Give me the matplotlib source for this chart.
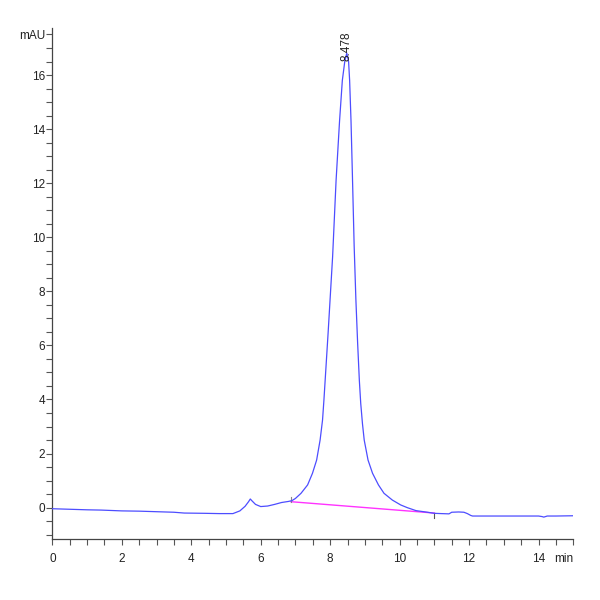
import numpy as np
import matplotlib
matplotlib.use("Agg")
import matplotlib.pyplot as plt
from matplotlib.ticker import MultipleLocator

plt.rcParams['font.family'] = ['Liberation Sans Narrow', 'Liberation Sans', 'DejaVu Sans']

# chromatogram (time in min, signal in mAU)
time_min = [0.0, 0.5, 1.0, 1.4, 2.0, 2.5, 3.0, 3.5, 3.8, 4.4, 4.8, 5.2,
            5.4, 5.55, 5.65, 5.7, 5.75, 5.85, 6.0, 6.2, 6.4, 6.6, 6.8, 6.9,
            7.0, 7.16, 7.35, 7.49, 7.61, 7.71, 7.78, 7.82, 7.94, 8.07, 8.17,
            8.27, 8.35, 8.42, 8.478, 8.53, 8.56, 8.60, 8.64, 8.69, 8.74, 8.79,
            8.84, 8.88, 8.93, 8.98, 9.09, 9.22, 9.39, 9.55, 9.79, 10.03, 10.22, 10.47,
            10.8, 11.0, 11.2, 11.42, 11.5, 11.7, 11.85, 11.95, 12.05, 12.1,
            12.5, 13.0, 13.5, 14.0, 14.1, 14.15, 14.25, 14.5, 15.0]
signal_mau = [-0.04, -0.06, -0.08, -0.09, -0.12, -0.13, -0.15, -0.17, -0.20, -0.21, -0.22, -0.22,
              -0.12, 0.05, 0.22, 0.32, 0.25, 0.12, 0.04, 0.06, 0.12, 0.19, 0.23, 0.26,
              0.34, 0.53, 0.84, 1.27, 1.76, 2.50, 3.24, 3.98, 6.45, 9.28, 12.1,
              14.3, 15.8, 16.5, 16.81, 16.5, 15.8, 14.3, 12.3, 9.7, 7.7, 6.1,
              4.7, 3.85, 3.1, 2.50, 1.76, 1.27, 0.84, 0.53, 0.28, 0.10, 0.0, -0.11,
              -0.17, -0.21, -0.22, -0.23, -0.17, -0.16, -0.17, -0.22, -0.29, -0.31,
              -0.31, -0.31, -0.31, -0.31, -0.33, -0.35, -0.31, -0.31, -0.30]

# integration baseline of the main peak
base_t = [6.87, 11.0]
base_v = [0.22, -0.20]

peak_rt = 8.478
peak_height = 16.81

fig = plt.figure(figsize=(6, 6), dpi=100)
ax = fig.add_axes([0.0872, 0.1012, 0.8683, 0.8526])

ax.plot(time_min, signal_mau, color='#4d4dff', lw=0.9, zorder=3)
ax.plot(base_t, base_v, color='#ff33ff', lw=1.0, zorder=2)

# start / end markers of the integration
ax.plot([base_t[0], base_t[0]], [base_v[0], base_v[0] + 0.17], color='#888888', lw=0.8)
ax.plot([base_t[1], base_t[1]], [base_v[1], base_v[1] - 0.17], color='#555555', lw=0.8)

ax.text(peak_rt, peak_height + 0.25, f"{peak_rt:.3f}", rotation=90, ha='center',
        va='center', fontsize=8.5, color='#222222', zorder=4)

ax.set_xlim(0, 15)
ax.set_ylim(-1.17, 17.75)

xt = list(range(0, 15, 2)) + [15]
ax.set_xticks(xt)
ax.set_xticklabels([str(v) for v in xt[:-1]] + ['min'])
ax.get_xticklabels()[-1].set_horizontalalignment('right')
ax.xaxis.set_minor_locator(MultipleLocator(0.5))

yt = list(range(0, 17, 2)) + [17.5]
ax.set_yticks(yt)
ax.set_yticklabels([str(v) for v in yt[:-1]] + ['mAU'])
ax.yaxis.set_minor_locator(MultipleLocator(0.5))

for s in ['top', 'right']:
    ax.spines[s].set_visible(False)
for s in ['left', 'bottom']:
    ax.spines[s].set_color('#444444')
    ax.spines[s].set_linewidth(0.9)

ax.tick_params(axis='both', which='both', direction='out', length=4, width=0.8,
               color='#555555', labelsize=8.5, labelcolor='#222222')
ax.tick_params(axis='x', which='major', pad=6)
ax.tick_params(axis='y', which='major', pad=1)

fig.savefig('out.png', dpi=100)
